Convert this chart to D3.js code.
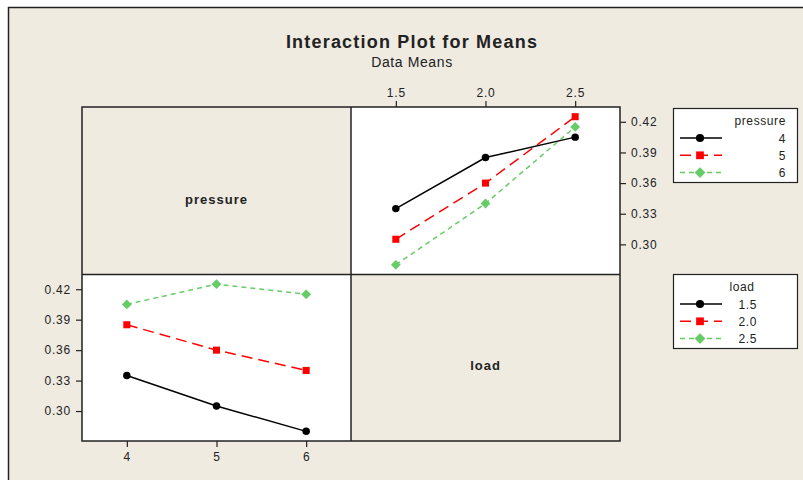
<!DOCTYPE html>
<html>
<head>
<meta charset="utf-8">
<script src="https://cdn.jsdelivr.net/npm/d3@7"></script>
<style>
  body { margin: 0; background: #ffffff; }
  svg { display: block; }
  text { font-family: "Liberation Sans Narrow", "Liberation Sans", Arial, sans-serif; fill: #222; }
</style>
</head>
<body>
<div id="chart"></div>
<script>
  // data means
  var pressureLevels = [4, 5, 6];
  var loadLevels = [1.5, 2.0, 2.5];
  // means by pressure (rows) across load (columns)
  var meansP4 = [0.335, 0.385, 0.405];
  var meansP5 = [0.305, 0.360, 0.425];
  var meansP6 = [0.280, 0.340, 0.415];
  var yTicks = [0.30, 0.33, 0.36, 0.39, 0.42];
  var loadTickLabels = ["1.5", "2.0", "2.5"];
  var pressureTickLabels = ["4", "5", "6"];

  var rows = [meansP4, meansP5, meansP6];

  var width = 803, height = 480;
  var bg = "#efebe1";
  // diamond = square turned 45 degrees
  var styles = [
    { color: "#000000", dash: null, shape: d3.symbolCircle, size: 44, rot: 0 },
    { color: "#ff0000", dash: "11,6", shape: d3.symbolSquare, size: 50, rot: 0 },
    { color: "#66cc66", dash: "5,4", shape: d3.symbolSquare, size: 48, rot: 45 }
  ];

  var svg = d3.select("#chart").append("svg")
    .attr("width", width).attr("height", height);

  // outer frame
  svg.append("rect").attr("x", 8.5).attr("y", 7.5)
    .attr("width", 900).attr("height", 600)
    .attr("fill", bg).attr("stroke", "#222").attr("stroke-width", 1.5);

  svg.append("text").attr("x", 412).attr("y", 48)
    .attr("text-anchor", "middle").attr("font-size", 18).attr("font-weight", "bold")
    .attr("letter-spacing", 1.2)
    .text("Interaction Plot for Means");
  svg.append("text").attr("x", 412).attr("y", 67)
    .attr("text-anchor", "middle").attr("font-size", 14).attr("letter-spacing", 0.6)
    .text("Data Means");

  var x0 = 82, xm = 351, x1 = 620;
  var y0 = 107, ym = 274.5, y1 = 441;

  var yDomain = [0.2705, 0.4345];
  var yTop = d3.scaleLinear().domain(yDomain).range([ym, y0]);
  var yBot = d3.scaleLinear().domain(yDomain).range([y1, ym]);
  var xLoad = d3.scaleLinear().domain([1.25, 2.75]).range([xm, x1]);
  var xPress = d3.scaleLinear().domain([3.5, 6.5]).range([x0, xm]);

  // panels
  svg.append("rect").attr("x", xm).attr("y", y0).attr("width", x1 - xm).attr("height", ym - y0).attr("fill", "#fff");
  svg.append("rect").attr("x", x0).attr("y", ym).attr("width", xm - x0).attr("height", y1 - ym).attr("fill", "#fff");

  function drawSeries(g, xs, ys, xVals, series) {
    series.forEach(function(vals, i) {
      var st = styles[i];
      var pts = vals.map(function(v, j) { return [xs(xVals[j]), ys(v)]; });
      g.append("path")
        .attr("d", d3.line()(pts))
        .attr("fill", "none")
        .attr("stroke", st.color)
        .attr("stroke-width", 1.5)
        .attr("stroke-dasharray", st.dash);
      g.selectAll(null).data(pts).enter().append("path")
        .attr("d", d3.symbol().type(st.shape).size(st.size))
        .attr("transform", function(d) { return "translate(" + d[0] + "," + d[1] + ") rotate(" + st.rot + ")"; })
        .attr("fill", st.color);
    });
  }

  // top right: x = load, lines = pressure
  drawSeries(svg.append("g"), xLoad, yTop, loadLevels, rows);

  // bottom left: x = pressure, lines = load
  var byLoad = loadLevels.map(function(l, j) { return rows.map(function(r) { return r[j]; }); });
  drawSeries(svg.append("g"), xPress, yBot, pressureLevels, byLoad);

  // panel borders
  var grid = svg.append("g").attr("fill", "none").attr("stroke", "#222").attr("stroke-width", 1.5);
  grid.append("rect").attr("x", x0).attr("y", y0).attr("width", x1 - x0).attr("height", y1 - y0);
  grid.append("line").attr("x1", xm).attr("x2", xm).attr("y1", y0).attr("y2", y1);
  grid.append("line").attr("x1", x0).attr("x2", x1).attr("y1", ym).attr("y2", ym);

  function styleAxis(g) {
    g.select(".domain").remove();
    g.selectAll(".tick line").attr("stroke", "#222").attr("stroke-width", 1.2);
    g.selectAll(".tick text").attr("font-size", 12).attr("letter-spacing", 0.8)
      .attr("font-family", "'Liberation Sans Narrow', 'Liberation Sans', Arial, sans-serif").attr("fill", "#222");
  }

  svg.append("g").attr("transform", "translate(0," + y0 + ")")
    .call(d3.axisTop(xLoad).tickValues(loadLevels).tickSize(6).tickPadding(4)
      .tickFormat(function(d, i) { return loadTickLabels[i]; }))
    .call(styleAxis);
  svg.append("g").attr("transform", "translate(" + x1 + ",0)")
    .call(d3.axisRight(yTop).tickValues(yTicks).tickSize(6).tickPadding(5).tickFormat(d3.format(".2f")))
    .call(styleAxis);
  svg.append("g").attr("transform", "translate(" + x0 + ",0)")
    .call(d3.axisLeft(yBot).tickValues(yTicks).tickSize(6).tickPadding(5).tickFormat(d3.format(".2f")))
    .call(styleAxis);
  svg.append("g").attr("transform", "translate(0," + y1 + ")")
    .call(d3.axisBottom(xPress).tickValues(pressureLevels).tickSize(6).tickPadding(5)
      .tickFormat(function(d, i) { return pressureTickLabels[i]; }))
    .call(styleAxis);

  // diagonal labels
  svg.append("text").attr("x", (x0 + xm) / 2).attr("y", 204)
    .attr("text-anchor", "middle").attr("font-size", 13).attr("font-weight", "bold").attr("letter-spacing", 1)
    .text("pressure");
  svg.append("text").attr("x", (xm + x1) / 2).attr("y", 370)
    .attr("text-anchor", "middle").attr("font-size", 13).attr("font-weight", "bold").attr("letter-spacing", 1)
    .text("load");

  // legends
  function legend(top, title, titleX, titleAnchor, labels, labelX) {
    var g = svg.append("g");
    g.append("rect").attr("x", 673.5).attr("y", top).attr("width", 124).attr("height", 74)
      .attr("fill", "#fff").attr("stroke", "#222").attr("stroke-width", 1.2);
    g.append("text").attr("x", titleX).attr("y", top + 16)
      .attr("text-anchor", titleAnchor).attr("font-size", 12).attr("letter-spacing", 0.6).text(title);
    labels.forEach(function(lab, i) {
      var st = styles[i];
      var cy = top + 29.5 + i * 17.3;
      g.append("line").attr("x1", 680).attr("x2", 722).attr("y1", cy).attr("y2", cy)
        .attr("stroke", st.color).attr("stroke-width", 1.5).attr("stroke-dasharray", st.dash);
      g.append("path").attr("d", d3.symbol().type(st.shape).size(st.size * 1.2)())
        .attr("transform", "translate(700," + cy + ") rotate(" + st.rot + ")").attr("fill", st.color);
      g.append("text").attr("x", labelX).attr("y", cy + 4.5)
        .attr("text-anchor", "end").attr("font-size", 12).attr("letter-spacing", 0.6).text(lab);
    });
  }
  legend(108.5, "pressure", 786, "end", pressureTickLabels, 786);
  legend(274.5, "load", 742, "middle", loadTickLabels, 757);
</script>
</body>
</html>
